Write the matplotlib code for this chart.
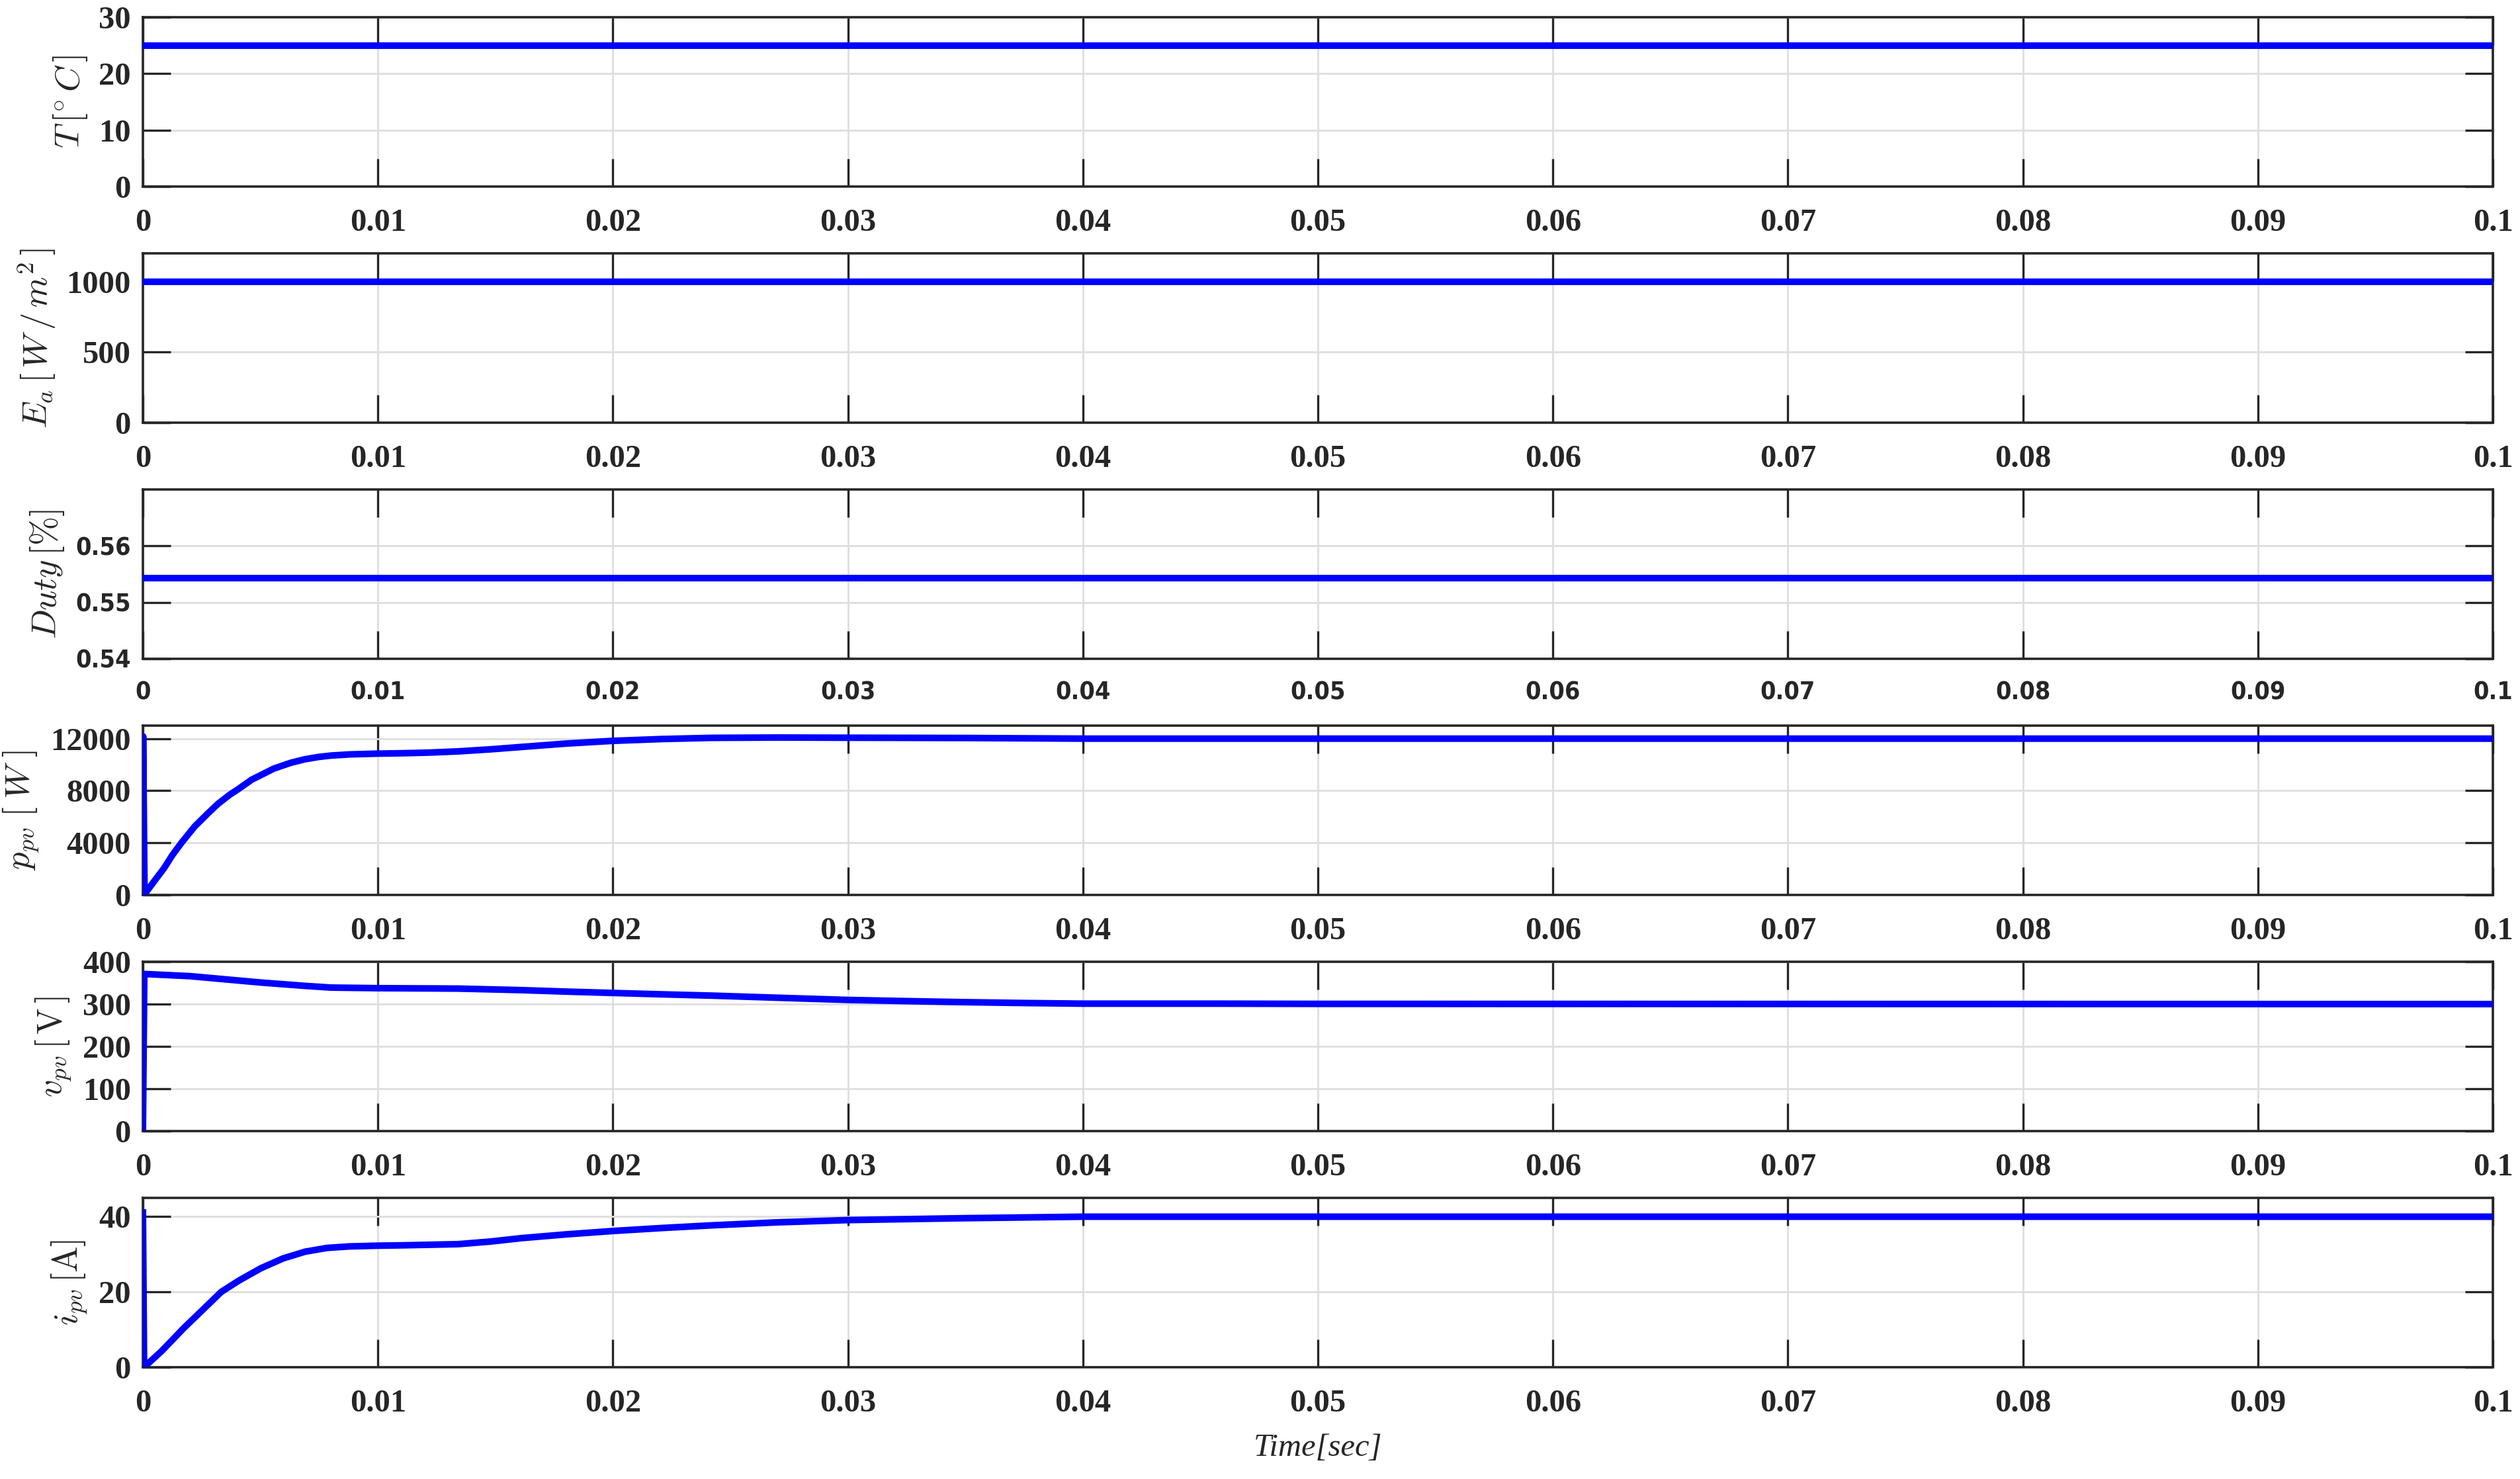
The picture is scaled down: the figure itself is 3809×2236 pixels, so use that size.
import matplotlib
matplotlib.use("Agg")
import matplotlib.pyplot as plt
from matplotlib import font_manager

# ---------------- data ----------------
t_const = [0.0, 0.1]
temp_vals = [25, 25]
irr_vals = [1000, 1000]
duty_vals = [0.5543, 0.5543]

t_p = [0.0, 0.00001, 0.00007, 0.0005, 0.0009, 0.00125, 0.00164, 0.0022, 0.00276,
       0.0032, 0.0037, 0.00408, 0.00463, 0.00502, 0.00557, 0.0063, 0.0069, 0.0075,
       0.0080, 0.0088, 0.0100, 0.0111, 0.0122, 0.0134, 0.0148, 0.0161, 0.0180,
       0.0200, 0.0221, 0.0242, 0.0270, 0.0300, 0.0350, 0.0400, 0.0500, 0.1000]
p_vals = [0, 12170, 50, 1100, 2050, 3050, 4000, 5250, 6250,
          7000, 7700, 8150, 8850, 9200, 9700, 10150, 10420, 10600,
          10700, 10790, 10850, 10880, 10930, 11020, 11180, 11360, 11620,
          11830, 11970, 12060, 12085, 12070, 12050, 12000, 12000, 12000]

t_v = [0.0, 0.00006, 0.0001, 0.0020, 0.0036, 0.0050, 0.0069, 0.0080, 0.0100,
       0.0134, 0.0161, 0.0180, 0.0200, 0.0221, 0.0242, 0.0270, 0.0300, 0.0325,
       0.0349, 0.0375, 0.0400, 0.0457, 0.0500, 0.1000]
v_vals = [0, 371, 371, 366, 358, 351, 343, 339, 337.6,
          336.6, 333, 329.5, 326.3, 323, 320, 315, 309.8, 307,
          304.6, 302.5, 301, 301, 300.5, 300]

t_i = [0.0, 0.00005, 0.0008, 0.00174, 0.00267, 0.00333, 0.00408, 0.00502, 0.00596,
       0.0069, 0.00783, 0.00877, 0.0100, 0.0111, 0.0134, 0.0148, 0.0161, 0.0180,
       0.0200, 0.0221, 0.0242, 0.0270, 0.0300, 0.0349, 0.0400, 0.1000]
i_vals = [42, 0, 4.3, 10.4, 16.0, 20.0, 23.0, 26.3, 28.9,
          30.7, 31.7, 32.1, 32.3, 32.4, 32.7, 33.4, 34.3, 35.3,
          36.2, 37.0, 37.7, 38.5, 39.1, 39.6, 40, 40]

x_ticks = [0, 0.01, 0.02, 0.03, 0.04, 0.05, 0.06, 0.07, 0.08, 0.09, 0.1]
x_ticklabels = ['0', '0.01', '0.02', '0.03', '0.04', '0.05', '0.06', '0.07',
                '0.08', '0.09', '0.1']

panels = [
    dict(t=t_const, y=temp_vals, ylim=(0, 30), yticks=[0, 10, 20, 30],
         ylabels=['0', '10', '20', '30'], label=r'$T\,[^{\circ}\,C\,]$', sans=False),
    dict(t=t_const, y=irr_vals, ylim=(0, 1200), yticks=[0, 500, 1000],
         ylabels=['0', '500', '1000'], label=r'$E_a\,[\,W\,/\,m^2\,]$', sans=False),
    dict(t=t_const, y=duty_vals, ylim=(0.54, 0.57), yticks=[0.54, 0.55, 0.56],
         ylabels=['0.54', '0.55', '0.56'], label=r'$Duty\,[\%]$', sans=True),
    dict(t=t_p, y=p_vals, ylim=(0, 13000), yticks=[0, 4000, 8000, 12000],
         ylabels=['0', '4000', '8000', '12000'], label=r'$p_{pv}\;[\;W\;]$', sans=False),
    dict(t=t_v, y=v_vals, ylim=(0, 400), yticks=[0, 100, 200, 300, 400],
         ylabels=['0', '100', '200', '300', '400'], label=r'$v_{pv}\,[\,\mathrm{V}\,]$', sans=False),
    dict(t=t_i, y=i_vals, ylim=(0, 45), yticks=[0, 20, 40],
         ylabels=['0', '20', '40'], label=r'$i_{pv}\,[\mathrm{A}]$', sans=False),
]

# ---------------- style ----------------
plt.rcParams['mathtext.fontset'] = 'cm'
ttf = font_manager.fontManager.ttflist
names = {f.name for f in ttf}
if 'Liberation Sans Narrow' in names:
    sans_kw = dict(family='Liberation Sans Narrow', fontsize=30)
elif any(f.name == 'DejaVu Sans' and 'condensed' in str(f.stretch) and f.weight in (700, 'bold') for f in ttf):
    sans_kw = dict(family='DejaVu Sans', fontstretch='condensed', fontsize=27)
else:
    sans_kw = dict(family='Liberation Sans', fontsize=26)
serif_kw = dict(family='Liberation Serif', fontsize=35)

DARK = '#262626'
GRID = '#dedede'
W, H = 3809, 2236
DPI = 100
fig = plt.figure(figsize=(W / DPI, H / DPI), dpi=DPI)

left_px, right_px = 216, 3768
tops = [26, 383, 740, 1097, 1454, 1811]
height_px = 256

label_fs = 38

for k, (p, top) in enumerate(zip(panels, tops)):
    ax = fig.add_axes([left_px / W, 1 - (top + height_px) / H,
                       (right_px - left_px) / W, height_px / H])
    ax.plot(p['t'], p['y'], color='#0000ff', lw=7.2, solid_joinstyle='round',
            solid_capstyle='butt', zorder=3)
    ax.set_xlim(0, 0.1)
    ax.set_ylim(*p['ylim'])
    ax.set_xticks(x_ticks)
    ax.set_yticks(p['yticks'])
    fkw = sans_kw if p['sans'] else serif_kw
    ax.set_xticklabels(x_ticklabels, weight='bold', color=DARK, **fkw)
    ax.set_yticklabels(p['ylabels'], weight='bold', color=DARK, **fkw)
    ax.set_axisbelow(True)
    ax.grid(True, color=GRID, lw=2.0)
    ax.tick_params(axis='both', direction='in', length=30, width=2.4, color=DARK,
                   top=True, right=True)
    ax.tick_params(axis='x', pad=24)
    ax.tick_params(axis='y', pad=13)
    for s in ax.spines.values():
        s.set_linewidth(2.6)
        s.set_color(DARK)
    ax.set_ylabel(p['label'], fontsize=label_fs, color=DARK, labelpad=10)
    if k == len(panels) - 1:
        ax.set_xlabel('Time[sec]', family='Liberation Serif', style='italic',
                      fontsize=35, color=DARK, labelpad=16)

fig.savefig('out.png', dpi=DPI, facecolor='white')
